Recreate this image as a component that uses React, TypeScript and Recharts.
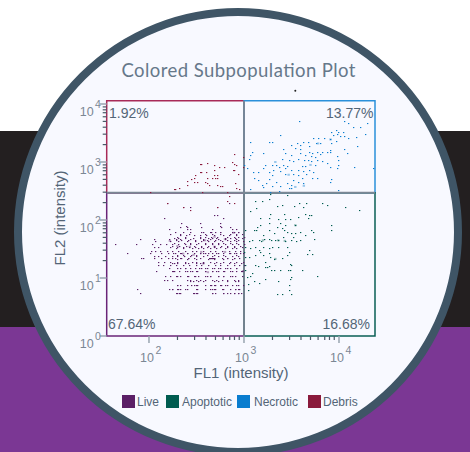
import { ScatterChart, Scatter, XAxis, YAxis, ReferenceArea, ReferenceLine, ReferenceDot } from "recharts";

// all intensities are stored as log10(FL1), log10(FL2)
const categories = ["Live", "Apoptotic", "Necrotic", "Debris"];
const categoryColors = ["#5b1f66", "#005c50", "#0a7dcf", "#8a1a3c"];
const quadrantLabels = ["1.92%", "13.77%", "67.64%", "16.68%"];

const xMajor = [2, 3, 4];
const xMinor = [2.3, 2.48, 2.6, 2.7, 2.78, 2.85, 2.9, 2.95, 3.3, 3.48, 3.6, 3.7, 3.78, 3.85, 3.9, 3.95];
const yMajor = [0, 1, 2, 3, 4];
const yMinor = [1.3, 1.48, 1.6, 1.7, 1.78, 1.85, 1.9, 1.95, 2.3, 2.48, 2.6, 2.7, 2.78, 2.85, 2.9, 2.95, 3.3, 3.48, 3.6, 3.7, 3.78, 3.85, 3.9, 3.95];

// Live events fall on quantised FL2 rows
const liveFl2Rows = [0.74, 0.81, 0.88, 0.96, 1.04, 1.12, 1.17, 1.23, 1.28, 1.34, 1.38, 1.43, 1.47, 1.53, 1.59, 1.63, 1.67, 1.71, 1.76, 1.8, 1.85, 1.89, 1.95, 2.03, 2.09, 2.22, 2.3];
const liveFl1ByRow = [
  [1.91, 2.28, 2.32, 2.46, 2.51, 2.66, 2.7, 2.78, 2.85, 2.89, 2.94],
  [1.87, 2.21, 2.24, 2.3, 2.33, 2.4, 2.51, 2.59, 2.66, 2.7, 2.77, 2.85, 2.91, 2.95],
  [2.3, 2.4, 2.44, 2.51, 2.59, 2.65, 2.7, 2.75, 2.8, 2.87, 2.92, 2.99],
  [2.16, 2.19, 2.24, 2.4, 2.43, 2.49, 2.54, 2.59, 2.66, 2.71, 2.77, 2.82, 2.89, 2.94],
  [2.17, 2.22, 2.28, 2.4, 2.47, 2.52, 2.59, 2.64, 2.73, 2.78, 2.85, 2.91, 2.98],
  [2.07, 2.25, 2.32, 2.38, 2.45, 2.51, 2.59, 2.66, 2.73, 2.79, 2.85, 2.92, 2.98],
  [2.21, 2.3, 2.38, 2.43, 2.53, 2.59, 2.68, 2.75, 2.82, 2.92],
  [2.1, 2.15, 2.22, 2.28, 2.36, 2.42, 2.49, 2.55, 2.62, 2.69, 2.75, 2.82, 2.89, 2.95, 3.0],
  [2.1, 2.16, 2.22, 2.3, 2.38, 2.45, 2.5, 2.57, 2.64, 2.71, 2.78, 2.85, 2.92, 2.99],
  [1.92, 1.94, 2.05, 2.13, 2.2, 2.27, 2.34, 2.41, 2.47, 2.54, 2.63, 2.64, 2.65, 2.66, 2.67, 2.68, 2.77, 2.82, 2.89, 2.95],
  [2.05, 2.1, 2.17, 2.24, 2.3, 2.37, 2.43, 2.5, 2.57, 2.66, 2.73, 2.8, 2.87, 2.94],
  [1.77, 2.01, 2.13, 2.2, 2.27, 2.34, 2.4, 2.47, 2.54, 2.59, 2.66, 2.71, 2.78, 2.85, 2.92, 2.99],
  [2.02, 2.06, 2.12, 2.19, 2.24, 2.31, 2.38, 2.45, 2.5, 2.57, 2.64, 2.7, 2.77, 2.84, 2.91, 2.96],
  [2.05, 2.1, 2.22, 2.3, 2.36, 2.42, 2.48, 2.55, 2.61, 2.68, 2.75, 2.82, 2.89, 2.98],
  [1.64, 1.86, 2.03, 2.12, 2.18, 2.24, 2.31, 2.38, 2.43, 2.5, 2.59, 2.66, 2.73, 2.8, 2.87, 2.94, 3.0],
  [2.06, 2.22, 2.31, 2.4, 2.48, 2.55, 2.62, 2.68, 2.77, 2.85, 2.92, 2.99],
  [1.91, 2.05, 2.21, 2.28, 2.33, 2.43, 2.57, 2.64, 2.73, 2.8, 2.92],
  [2.3, 2.38, 2.54, 2.59, 2.65, 2.72, 2.82, 2.89, 2.94, 3.0],
  [2.22, 2.33, 2.42, 2.59, 2.66, 2.75, 2.85, 2.92, 2.98],
  [2.55, 2.65, 2.7, 2.75, 2.87, 2.94],
  [2.21, 2.4, 2.43, 2.66, 2.87, 2.92],
  [2.39, 2.75],
  [2.34, 2.54, 2.75],
  [2.16, 2.78],
  [2.68, 2.72],
  [2.36, 2.43, 2.72],
  [2.19, 2.84],
];
// second read of the dense centre of the Live cloud
const liveDenseFl2Rows = [1.88, 1.79, 1.75, 1.69, 1.65, 1.61, 1.56, 1.52, 1.43, 1.39, 1.35, 1.32, 1.26, 1.17, 1.115, 1.03, 0.955, 0.875, 0.81, 0.74];
const liveDenseFl1ByRow = [
  [2.33, 2.4, 2.55, 2.76, 2.85],
  [2.27, 2.36, 2.43, 2.57, 2.64, 2.75, 2.89, 2.94],
  [2.33, 2.39, 2.47, 2.54, 2.6, 2.68, 2.78, 2.84, 2.92],
  [2.26, 2.31, 2.38, 2.46, 2.54, 2.62, 2.66, 2.71, 2.8, 2.85, 2.91, 2.98],
  [2.28, 2.34, 2.41, 2.48, 2.57, 2.61, 2.69, 2.75, 2.82, 2.89, 2.94],
  [2.26, 2.37, 2.43, 2.52, 2.59, 2.66, 2.73, 2.78, 2.85, 2.92],
  [2.24, 2.32, 2.39, 2.47, 2.55, 2.62, 2.68, 2.76, 2.82, 2.89, 2.96],
  [2.28, 2.36, 2.45, 2.52, 2.57, 2.64, 2.71, 2.8, 2.87, 2.92],
  [2.25, 2.33, 2.4, 2.54, 2.57, 2.62, 2.73, 2.84, 2.89, 2.96],
  [2.29, 2.36, 2.44, 2.49, 2.61, 2.68, 2.78, 2.92],
  [2.24, 2.33, 2.41, 2.64, 2.66, 2.68, 2.82, 2.89],
  [2.29, 2.4, 2.5, 2.62, 2.68, 2.78, 2.87],
  [2.24, 2.26, 2.29, 2.38, 2.41, 2.5, 2.54, 2.57, 2.68, 2.75, 2.84, 2.89, 2.97],
  [2.33, 2.38, 2.48, 2.55, 2.61, 2.66, 2.73, 2.8, 2.85, 2.92],
  [2.24, 2.26, 2.4, 2.43, 2.5, 2.59, 2.66, 2.71, 2.78, 2.87, 2.97],
  [2.29, 2.33, 2.41, 2.48, 2.61, 2.64, 2.73, 2.78, 2.87],
  [2.43, 2.46, 2.52, 2.57, 2.68, 2.73, 2.82, 2.91, 2.94],
  [2.29, 2.33, 2.47, 2.5, 2.64, 2.68, 2.76, 2.82, 2.94],
  [2.24, 2.31, 2.38, 2.5, 2.64, 2.68, 2.78, 2.91, 2.94],
  [2.29, 2.33, 2.47, 2.5, 2.66, 2.78, 2.82, 2.89, 2.94, 2.97],
];
const liveFaint = [
  [2.22, 1.64], [2.43, 1.54], [2.59, 1.65], [2.69, 1.71], [2.8, 1.67], [2.89, 1.78], [2.36, 1.42], [2.55, 1.45],
  [2.69, 1.54], [2.8, 1.45], [2.57, 1.25], [2.3, 1.55], [2.47, 1.4], [2.62, 1.1], [2.99, 1.12],
];
const apoptotic = [
  [3.12, 2.33], [3.06, 2.16], [3.13, 2.2], [3.19, 2.33], [3.26, 2.37], [3.27, 2.45], [3.35, 2.24], [3.4, 2.26], [3.58, 2.29], [3.62, 2.22],
  [3.65, 2.29], [3.82, 2.29], [3.87, 2.26], [4.06, 2.22], [4.21, 2.18], [3.45, 2.43], [3.53, 2.25], [3.27, 2.1], [3.26, 2.03], [3.17, 2.03],
  [3.14, 1.88], [3.11, 1.83], [3.17, 1.91], [3.26, 1.95], [3.36, 2.01], [3.38, 1.94], [3.42, 2.1], [3.43, 2.01], [3.48, 2.01], [3.57, 2.06],
  [3.64, 2.11], [3.68, 2.09], [3.71, 2.09], [3.67, 2.03], [3.54, 1.91], [3.92, 1.91], [3.92, 1.83], [3.01, 1.83], [3.05, 1.64], [3.08, 1.65],
  [3.16, 1.65], [3.18, 1.63], [3.21, 1.68], [3.26, 1.68], [3.28, 1.65], [3.32, 1.78], [3.35, 1.88], [3.4, 1.86], [3.42, 1.83], [3.45, 1.8],
  [3.49, 1.77], [3.54, 1.77], [3.59, 1.8], [3.64, 1.74], [3.71, 1.82], [3.74, 1.68], [3.73, 1.8], [3.36, 1.65], [3.43, 1.64], [3.5, 1.65],
  [3.55, 1.63], [3.2, 1.54], [3.26, 1.51], [3.29, 1.53], [3.36, 1.53], [3.45, 1.53], [3.47, 1.45], [3.68, 1.49], [3.72, 1.41], [3.66, 1.41],
  [3.01, 1.54], [3.06, 1.51], [3.12, 1.54], [3.17, 1.45], [3.2, 1.4], [3.26, 1.43], [3.27, 1.37], [3.32, 1.33], [3.4, 1.34], [3.45, 1.4],
  [3.48, 1.25], [3.5, 1.22], [3.22, 1.28], [3.26, 1.21], [3.15, 1.21], [3.01, 1.22], [3.05, 1.37], [3.12, 1.4], [3.01, 1.37], [3.28, 1.14],
  [3.32, 1.13], [3.38, 1.14], [3.46, 1.14], [3.61, 1.14], [3.48, 1.14], [3.06, 1.03], [3.08, 1.08], [3.11, 0.95], [3.22, 0.98], [3.36, 0.95],
  [3.47, 0.88], [3.5, 1.02], [3.48, 0.98], [3.77, 1.03], [3.04, 0.9], [3.04, 0.8], [3.35, 0.73], [3.4, 0.73], [3.47, 0.8], [3.5, 0.73],
  [3.16, 0.91], [3.22, 1.19], [3.24, 1.19], [3.01, 1.14], [3.03, 1.02], [3.0, 1.45], [3.12, 1.22], [3.16, 1.48], [3.33, 1.65], [3.41, 1.71],
  [3.43, 1.91], [3.13, 1.83], [3.52, 1.71], [3.59, 1.65], [3.26, 1.83], [3.2, 1.74],
];
const apoptoticFaint = [[3.54, 1.91], [3.36, 1.65], [3.43, 1.64], [3.33, 1.33], [3.2, 1.65]];
const necrotic = [
  [3.58, 3.7], [4.05, 3.7], [4.1, 3.68], [4.3, 3.68], [4.15, 3.61], [4.22, 3.6], [3.92, 3.52], [3.97, 3.55], [3.99, 3.52], [3.94, 3.47],
  [3.98, 3.48], [4.04, 3.51], [4.01, 3.45], [4.05, 3.44], [4.1, 3.41], [4.18, 3.43], [4.27, 3.48], [3.38, 3.47], [3.06, 3.34], [3.26, 3.34],
  [3.3, 3.34], [3.5, 3.29], [3.56, 3.32], [3.62, 3.34], [3.67, 3.35], [3.73, 3.41], [3.78, 3.41], [3.84, 3.41], [3.91, 3.39], [3.97, 3.36],
  [3.8, 3.32], [3.76, 3.32], [3.68, 3.28], [3.59, 3.29], [3.92, 3.32], [4.19, 3.28], [4.05, 3.22], [3.91, 3.21], [3.87, 3.17], [3.82, 3.18],
  [3.77, 3.18], [3.72, 3.15], [3.68, 3.18], [3.59, 3.22], [3.54, 3.25], [3.41, 3.22], [3.2, 3.15], [3.08, 3.17], [3.06, 3.12], [3.05, 3.06],
  [4.08, 3.15], [3.98, 3.1], [3.99, 3.03], [3.91, 3.18], [3.71, 3.1], [3.75, 3.09], [3.8, 3.14], [3.64, 3.12], [3.59, 3.15], [3.5, 3.12],
  [3.43, 3.15], [3.4, 3.06], [3.29, 2.95], [3.34, 2.95], [3.22, 2.95], [3.2, 2.89], [3.15, 2.83], [3.09, 2.82], [3.03, 2.89], [3.0, 2.95],
  [3.57, 3.05], [3.63, 3.03], [3.67, 3.03], [3.71, 3.01], [3.77, 3.03], [3.82, 3.01], [3.87, 2.98], [3.99, 2.95], [3.98, 2.89], [4.16, 2.91],
  [4.36, 2.89], [3.91, 2.91], [3.75, 2.95], [3.64, 2.93], [3.61, 2.93], [3.52, 3.01], [3.47, 3.03], [3.45, 2.93], [3.41, 2.95], [3.37, 2.91],
  [3.31, 2.87], [3.26, 2.83], [3.29, 2.78], [3.38, 2.85], [3.43, 2.89], [3.5, 2.86], [3.57, 2.86], [3.62, 2.85], [3.68, 2.87], [3.73, 2.83],
  [3.65, 2.8], [3.57, 2.78], [3.52, 2.79], [3.43, 2.8], [3.26, 2.71], [3.23, 2.63], [3.15, 2.69], [3.11, 2.73], [3.19, 2.6], [3.2, 2.57],
  [3.06, 2.54], [3.34, 2.66], [3.38, 2.59], [3.3, 2.59], [3.45, 2.63], [3.47, 2.56], [3.5, 2.55], [3.57, 2.66], [3.61, 2.72], [3.72, 2.72],
  [3.77, 2.72], [3.92, 2.7], [3.99, 2.52], [3.91, 2.66], [3.62, 2.63], [3.5, 2.6], [3.52, 2.69], [3.37, 2.5], [3.27, 2.49],
];
const necroticFaint = [[3.33, 3.0], [3.7, 2.95], [3.47, 2.78], [3.54, 2.57], [3.63, 2.59], [3.91, 3.39], [3.78, 3.32]];
const debris = [
  [2.01, 2.49], [2.26, 2.53], [2.27, 2.53], [2.32, 2.56], [2.4, 2.6], [2.4, 2.67], [2.44, 2.7], [2.47, 2.72], [2.48, 2.78], [2.47, 2.66],
  [2.51, 2.65], [2.54, 2.96], [2.55, 2.96], [2.54, 2.82], [2.55, 2.82], [2.6, 2.82], [2.61, 2.73], [2.59, 2.65], [2.61, 2.63], [2.63, 2.61],
  [2.61, 2.98], [2.68, 2.95], [2.74, 2.92], [2.79, 2.92], [2.68, 2.86], [2.68, 2.78], [2.72, 2.78], [2.66, 2.72], [2.7, 2.72], [2.72, 2.73],
  [2.72, 2.6], [2.75, 2.59], [2.77, 2.59], [2.56, 2.49], [2.87, 3.0], [2.9, 3.14], [2.9, 2.96], [2.92, 2.95], [2.88, 2.87], [2.9, 2.87],
  [2.94, 2.79], [2.91, 2.63], [2.92, 2.55], [2.95, 2.53], [2.82, 2.49], [2.99, 3.09], [2.99, 2.92], [2.84, 2.41], [2.82, 2.33], [2.19, 2.3],
  [2.36, 2.22], [2.43, 2.18], [2.72, 2.22], [2.89, 2.3],
];

const toRows = (pts: number[][]) => pts.map(([fl1, fl2]) => ({ fl1, fl2 }));
const liveRows = [
  ...liveFl2Rows.flatMap((fl2, i) => liveFl1ByRow[i].map((fl1) => ({ fl1, fl2 }))),
  ...liveDenseFl2Rows.flatMap((fl2, i) => liveDenseFl1ByRow[i].map((fl1) => ({ fl1, fl2 }))),
];

const axisColor = "#7b8794";
const textColor = "#536577";
const font = "'Liberation Sans', Arial, sans-serif";

// events are single pixels on the original cytometer plot
const dot = (color: string) => (p: any) => (
  <rect x={Math.round(p.cx)} y={Math.round(p.cy)} width={1.3} height={1.1} fill={color} />
);
const faint = (color: string) => (p: any) => <rect x={p.cx - 1.2} y={p.cy - 1} width={2.4} height={2} fill={color} opacity={0.4} />;

function XTick({ x, y, payload }: any) {
  const major = xMajor.includes(payload.value);
  return (
    <g>
      <line x1={x} x2={x} y1={y} y2={y + (major ? 7 : 4)} stroke={major ? "#98a4b0" : "#4a5a68"} strokeWidth={major ? 1.5 : 1.2} />
      {major && (
        <text x={x - 9} y={y + 26} fontFamily={font} fontSize={12.5} fill={axisColor}>
          10
          <tspan dx={1.5} dy={-8} fontSize={10.5}>{payload.value}</tspan>
        </text>
      )}
    </g>
  );
}

function YTick({ x, y, payload }: any) {
  const major = yMajor.includes(payload.value);
  return (
    <g>
      <line x1={x} x2={x - (major ? 7 : 4)} y1={y} y2={y} stroke={major ? "#98a4b0" : "#4a5a68"} strokeWidth={major ? 1.5 : 1.2} />
      {major && (
        <text x={x - 27} y={y + 12} fontFamily={font} fontSize={12.5} fill={axisColor}>
          10
          <tspan dx={1.5} dy={-8} fontSize={10.5}>{payload.value}</tspan>
        </text>
      )}
    </g>
  );
}

export default function App() {
  return (
    <div style={{ position: "absolute", left: 0, top: 0, width: 470, height: 452, overflow: "hidden", background: "#fff" }}>
      <div style={{ position: "absolute", left: 0, top: 131, width: 470, height: 196, background: "#231f20" }} />
      <div style={{ position: "absolute", left: 0, top: 327, width: 470, height: 125, background: "#7b3794" }} />
      <div
        style={{
          position: "absolute",
          left: 13.5,
          top: 8,
          width: 432,
          height: 432,
          borderRadius: "50%",
          border: "8px solid #3f5566",
          background: "#f8f9ff",
        }}
      />
      <div style={{ position: "absolute", left: 0, top: 0 }}>
        <ScatterChart width={470} height={452} margin={{ top: 100.7, left: 46.7, right: 95, bottom: 66 }}>
          <XAxis
            type="number"
            dataKey="fl1"
            domain={[1.555, 4.379]}
            ticks={[...xMajor, ...xMinor].sort((a, b) => a - b)}
            interval={0}
            height={50}
            axisLine={false}
            tickLine={false}
            tickSize={0}
            tickMargin={0}
            tick={XTick}
          />
          <YAxis
            type="number"
            dataKey="fl2"
            domain={[0, 4.057]}
            ticks={[...yMajor, ...yMinor].sort((a, b) => a - b)}
            interval={0}
            width={60}
            axisLine={false}
            tickLine={false}
            tickSize={0}
            tickMargin={0}
            tick={YTick}
          />
          <ReferenceArea x1={1.555} x2={3} y1={2.47} y2={4.057} fill="none" stroke="#a82a58" strokeWidth={1.5} />
          <ReferenceArea x1={3} x2={4.379} y1={2.47} y2={4.057} fill="none" stroke="#2a90da" strokeWidth={1.5} />
          <ReferenceArea x1={1.555} x2={3} y1={0} y2={2.47} fill="none" stroke="#6a2478" strokeWidth={1.5} />
          <ReferenceArea x1={3} x2={4.379} y1={0} y2={2.47} fill="none" stroke="#0a5f56" strokeWidth={1.5} />

          <Scatter name="Live faint" data={toRows(liveFaint)} shape={faint(categoryColors[0])} isAnimationActive={false} />
          <Scatter name="Apoptotic faint" data={toRows(apoptoticFaint)} shape={faint(categoryColors[1])} isAnimationActive={false} />
          <Scatter name="Necrotic faint" data={toRows(necroticFaint)} shape={faint(categoryColors[2])} isAnimationActive={false} />
          <Scatter name={categories[0]} data={liveRows} shape={dot(categoryColors[0])} isAnimationActive={false} />
          <Scatter name={categories[1]} data={toRows(apoptotic)} shape={dot(categoryColors[1])} isAnimationActive={false} />
          <Scatter name={categories[2]} data={toRows(necrotic)} shape={dot(categoryColors[2])} isAnimationActive={false} />
          <Scatter name={categories[3]} data={toRows(debris)} shape={dot(categoryColors[3])} isAnimationActive={false} />

          <ReferenceLine x={3} stroke={axisColor} strokeWidth={1.8} />
          <ReferenceLine y={2.47} stroke={axisColor} strokeWidth={1.8} />
          <ReferenceDot x={3.54} y={4.23} r={1} fill="#222" stroke="none" ifOverflow="visible" />

          <text x={238.5} y={77} textAnchor="middle" fontFamily="Lato, sans-serif" fontSize={18.5} fill="#66788a" textLength={234}>
            Colored Subpopulation Plot
          </text>
          <text x={109} y={118} fontFamily={font} fontSize={14} fill={textColor}>{quadrantLabels[0]}</text>
          <text x={373.5} y={118} textAnchor="end" fontFamily={font} fontSize={14} fill={textColor}>{quadrantLabels[1]}</text>
          <text x={108} y={329} fontFamily={font} fontSize={14} fill={textColor}>{quadrantLabels[2]}</text>
          <text x={370} y={329} textAnchor="end" fontFamily={font} fontSize={14} fill={textColor}>{quadrantLabels[3]}</text>
          <text x={241} y={378} textAnchor="middle" fontFamily={font} fontSize={15} fill={textColor}>FL1 (intensity)</text>
          <text x={65} y={218} textAnchor="middle" fontFamily={font} fontSize={15} fill={textColor} transform="rotate(-90 65 218)">FL2 (intensity)</text>
        </ScatterChart>
      </div>
      {categories.map((name, i) => (
        <div key={name} style={{ position: "absolute", left: [122, 166, 237, 308][i], top: 395, display: "flex", alignItems: "center", height: 13 }}>
          <span style={{ width: 13, height: 13, background: categoryColors[i], display: "block" }} />
          <span style={{ marginLeft: [2, 3, 4, 2][i], fontFamily: font, fontSize: 12, color: textColor, whiteSpace: "nowrap" }}>{name}</span>
        </div>
      ))}
    </div>
  );
}
